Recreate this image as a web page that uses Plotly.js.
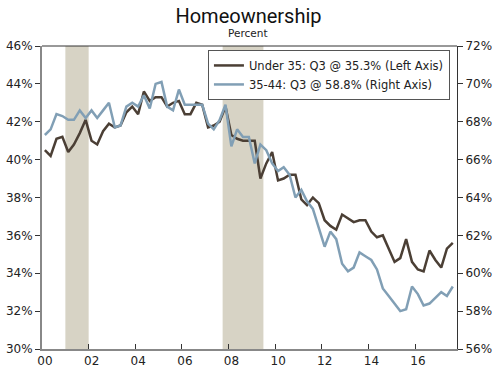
<!DOCTYPE html>
<html>
<head>
<meta charset="utf-8">
<script src="https://cdn.plot.ly/plotly-3.0.1.min.js"></script>
<style>
  html, body { margin: 0; padding: 0; background: #ffffff; }
  #chart { width: 500px; height: 372px; }
</style>
</head>
<body>
<div id="chart"></div>
<script>
// Quarterly data, 2000 Q1 through 2017 Q3
const startYear = 2000;
const under35 = [
  40.5, 40.2, 41.1, 41.2, 40.4, 40.8, 41.4, 42.1, 41.0, 40.8,
  41.5, 41.9, 41.7, 41.8, 42.5, 42.8, 42.4, 43.6, 43.1, 43.3,
  43.3, 42.8, 43.0, 43.1, 42.4, 42.4, 43.0, 42.9, 41.7, 41.8,
  42.0, 42.8, 41.3, 41.1, 41.0, 41.0, 41.0, 39.0, 39.8, 40.4,
  38.9, 39.0, 39.2, 39.2, 37.9, 37.6, 38.0, 37.7, 36.8, 36.5,
  36.3, 37.1, 36.9, 36.7, 36.8, 36.8, 36.2, 35.9, 36.0, 35.3,
  34.6, 34.8, 35.8, 34.6, 34.2, 34.1, 35.2, 34.7, 34.3, 35.3,
  35.6
];
const age35to44 = [
  67.3, 67.6, 68.4, 68.3, 68.1, 68.1, 68.6, 68.2, 68.6, 68.2,
  68.6, 69.0, 67.7, 67.8, 68.8, 69.0, 68.8, 69.4, 68.7, 70.0,
  70.1, 68.8, 68.6, 69.7, 68.9, 68.9, 68.9, 68.9, 67.9, 67.6,
  68.1, 68.9, 66.7, 67.6, 67.2, 67.2, 65.8, 66.8, 66.5, 65.8,
  65.4, 65.6, 65.2, 64.0, 64.4, 63.8, 63.4, 62.4, 61.4, 62.2,
  61.8, 60.5, 60.1, 60.3, 61.1, 60.9, 60.7, 60.2, 59.2, 58.8,
  58.4, 58.0, 58.1, 59.3, 58.9, 58.3, 58.4, 58.7, 59.0, 58.8,
  59.3
];
const seriesNames = ['Under 35: Q3 @ 35.3% (Left Axis)', '35-44: Q3 @ 58.8% (Right Axis)'];
const recessionStart = ['2001-01-01', '2007-10-01'];
const recessionEnd = ['2002-01-01', '2009-07-01'];

// quarter dates (mid-quarter)
const midMonths = ['02', '05', '08', '11'];
const quarters = under35.map((_, i) => {
  const y = startYear + Math.floor(i / 4);
  return y + '-' + midMonths[i % 4] + '-15';
});

const FONT = 'DejaVu Sans, Verdana, sans-serif';
const brown = '#4b3f35';
const blue = '#819fb5';

const traces = [
  {
    x: quarters, y: under35, name: seriesNames[0], type: 'scatter', mode: 'lines',
    line: { color: brown, width: 2.5 }, yaxis: 'y'
  },
  {
    x: quarters, y: age35to44, name: seriesNames[1], type: 'scatter', mode: 'lines',
    line: { color: blue, width: 2.5 }, yaxis: 'y2'
  }
];

const shapes = recessionStart.map((s, i) => ({
  type: 'rect', xref: 'x', yref: 'paper', x0: s, x1: recessionEnd[i], y0: 0, y1: 1,
  fillcolor: '#d7d3c5', line: { width: 0 }, layer: 'below'
}));
shapes.push({
  type: 'line', xref: 'paper', yref: 'paper', x0: 0, x1: 1, y0: 1, y1: 1,
  line: { color: '#333333', width: 1 }
});

const layout = {
  width: 500, height: 372,
  margin: { l: 42, r: 43, t: 46, b: 23 },
  paper_bgcolor: '#ffffff', plot_bgcolor: '#ffffff',
  font: { family: FONT, size: 12, color: '#222222' },
  title: {
    text: 'Homeownership', x: 0.497, xanchor: 'center', y: 0.958, yanchor: 'middle',
    yref: 'container', font: { family: 'Roboto, sans-serif', size: 20, color: '#111111' }
  },
  annotations: [{
    text: 'Percent', xref: 'paper', yref: 'paper', x: 0.496, y: 1.042,
    xanchor: 'center', yanchor: 'middle', showarrow: false,
    font: { family: FONT, size: 10.5, color: '#222222' }
  }],
  showlegend: true,
  legend: {
    x: 0.983, xanchor: 'right', y: 0.987, yanchor: 'top',
    bgcolor: '#ffffff', bordercolor: '#555555', borderwidth: 1,
    font: { family: FONT, size: 11.5, color: '#222222' },
    tracegroupgap: 0
  },
  xaxis: {
    type: 'date', range: ['2000-01-01', '2017-10-20'],
    tick0: '2000-01-01', dtick: 'M24', tickformat: '%y',
    showgrid: false, zeroline: false,
    showline: true, linecolor: '#888888', linewidth: 2,
    ticks: 'inside', ticklen: 5, tickcolor: '#333333', tickwidth: 1,
    ticklabelshift: 3,
    tickfont: { family: FONT, size: 12, color: '#222222' }
  },
  yaxis: {
    range: [30, 46], dtick: 2, tick0: 30, ticksuffix: '%',
    showgrid: false, zeroline: false,
    showline: true, linecolor: '#888888', linewidth: 2,
    ticks: 'outside', ticklen: 5, tickcolor: '#333333', tickwidth: 1,
    tickfont: { family: FONT, size: 12, color: '#222222' }
  },
  yaxis2: {
    range: [56, 72], dtick: 2, tick0: 56, ticksuffix: '%',
    overlaying: 'y', side: 'right',
    showgrid: false, zeroline: false,
    showline: true, linecolor: '#333333', linewidth: 1,
    ticks: 'outside', ticklen: 5, tickcolor: '#333333', tickwidth: 1,
    tickfont: { family: FONT, size: 12, color: '#222222' }
  },
  shapes: shapes
};

Plotly.newPlot('chart', traces, layout, { displayModeBar: false, staticPlot: true });
</script>
</body>
</html>
